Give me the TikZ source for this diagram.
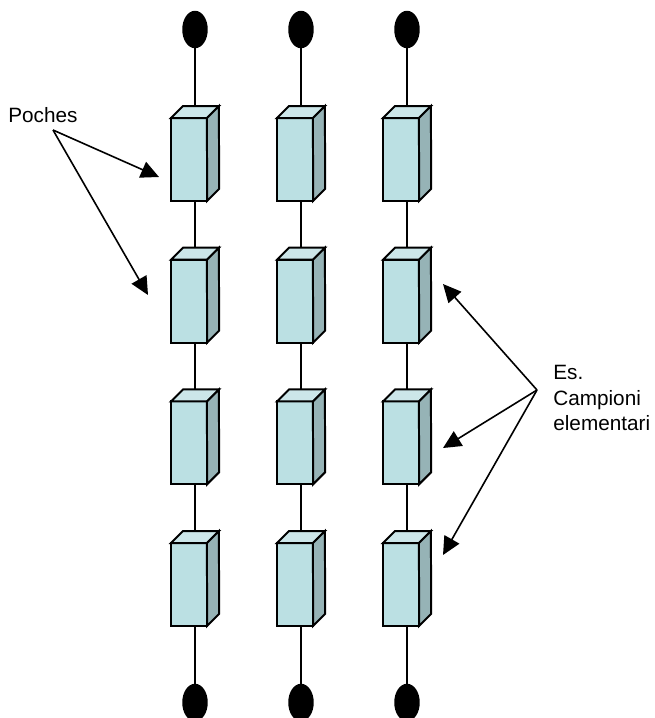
\documentclass[tikz,border=0pt]{standalone}
\usepackage{fontspec}
\setmainfont{Liberation Sans}
\usetikzlibrary{arrows.meta,shapes.geometric}
\definecolor{frontcol}{HTML}{BBE0E3}
\definecolor{topcol}{HTML}{CCE6E9}
\definecolor{sidecol}{HTML}{96B3B6}
\tikzset{
  wire/.style={line width=0.032cm},
  face/.style={draw,line width=0.04cm,line join=miter},
  poche/.style={inner sep=0pt,outer sep=0pt,minimum width=0.96cm,minimum height=1.9cm},
  weight/.style={ellipse,fill=black,inner sep=0pt,outer sep=0pt,minimum width=0.51cm,minimum height=0.75cm},
  pointer/.style={line width=0.032cm,-{Triangle[length=0.36cm,width=0.34cm]}},
  note/.style={inner sep=0pt,align=left,font=\fontsize{11.8}{14.5}\selectfont}
}
\begin{document}
\begin{tikzpicture}[x=0.02cm,y=-0.02cm]
\useasboundingbox (0,0) rectangle (655,718);
\clip (0,0) rectangle (655,718);
\foreach \c/\x in {1/195,2/301,3/407} {
  \node[weight] (top\c) at (\x,29.5) {};
  \node[weight] (bot\c) at (\x,702.5) {};
  \foreach \r/\y in {1/153.5,2/295.2,3/436.9,4/578.5} {
    \node[poche] (p\c\r) at (\x,\y) {};
    \draw[face,fill=frontcol] (p\c\r.south west) rectangle ++(36,-83);
    \draw[face,fill=topcol] (p\c\r.north west) ++(0,12) -- ++(12,-12) -- ++(36,0) -- ++(-12,12) -- cycle;
    \draw[face,fill=sidecol] (p\c\r.south west) ++(36,0) -- ++(12,-12) -- (p\c\r.north east) -- ++(-12,12) -- cycle;
  }
  \draw[wire] (top\c) -- (p\c1.north);
  \draw[wire] (p\c1.south) -- (p\c2.north);
  \draw[wire] (p\c2.south) -- (p\c3.north);
  \draw[wire] (p\c3.south) -- (p\c4.north);
  \draw[wire] (p\c4.south) -- (bot\c);
}
\node[note,anchor=west] (poches) at (8,115) {Poches};
\node[note,anchor=north west] (campioni) at (553,365) {Es.\\Campioni\\elementari};
\coordinate (pochesfrom) at (53,130);
\coordinate (pochesa) at (159,177);
\coordinate (pochesb) at (148,295);
\coordinate (campfrom) at (537,390);
\coordinate (campa) at (443,284);
\coordinate (campb) at (443,448);
\coordinate (campc) at (443,555);
\draw[pointer] (pochesfrom) -- (pochesa);
\draw[pointer] (pochesfrom) -- (pochesb);
\draw[pointer] (campfrom) -- (campa);
\draw[pointer] (campfrom) -- (campb);
\draw[pointer] (campfrom) -- (campc);
\end{tikzpicture}
\end{document}
